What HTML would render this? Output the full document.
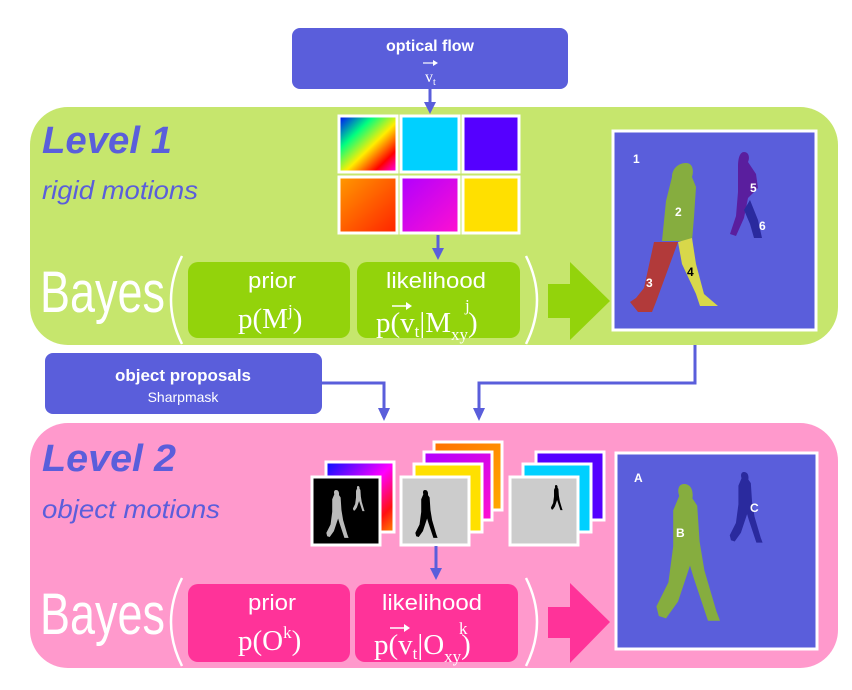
<!DOCTYPE html>
<html><head><meta charset="utf-8"><style>
html,body{margin:0;padding:0;background:#fff}
svg{display:block}
text{font-family:"Liberation Sans",sans-serif}
.ser{font-family:"Liberation Serif",serif}
</style></head><body>
<svg width="852" height="690" viewBox="0 0 852 690" xmlns="http://www.w3.org/2000/svg">
<defs>
<linearGradient id="g1" x1="0" y1="0" x2="1" y2="1"><stop offset="0" stop-color="#ff9a00"/><stop offset="1" stop-color="#ff2200"/></linearGradient>
<linearGradient id="g2" x1="0" y1="0" x2="1" y2="1"><stop offset="0" stop-color="#b000ff"/><stop offset="1" stop-color="#ff10d0"/></linearGradient>
<linearGradient id="g3" x1="0" y1="0" x2="1" y2="1"><stop offset="0" stop-color="#0000ff"/><stop offset="0.3" stop-color="#00ff80"/><stop offset="0.55" stop-color="#ffee00"/><stop offset="0.8" stop-color="#ff0000"/><stop offset="1" stop-color="#ff00ff"/></linearGradient>
<linearGradient id="g4" x1="0" y1="0" x2="1" y2="1"><stop offset="0" stop-color="#0010ff"/><stop offset="0.5" stop-color="#ff00ff"/><stop offset="0.8" stop-color="#ff1010"/><stop offset="1" stop-color="#ff8800"/></linearGradient>
<linearGradient id="g5" x1="0" y1="0" x2="1" y2="1"><stop offset="0" stop-color="#ff7000"/><stop offset="1" stop-color="#ffaa00"/></linearGradient>
<path id="walker" d="M0,0 c6,0 8,6 7,12 l4,6 l2,30 l4,24 l10,34 l3,8 l-10,0 l-2,-6 l-10,-30 l-3,-10 l-10,30 l-10,14 l-6,-2 l-2,-8 l10,-20 l4,-30 l0,-30 l5,-12 c-2,-6 0,-10 4,-10z"/>
</defs>

<rect x="292" y="28" width="276" height="61" rx="8" fill="#5a5edb"/>
<text x="430" y="51" font-size="16" font-weight="bold" fill="#fff" text-anchor="middle">optical flow</text>
<line x1="423" y1="63" x2="436" y2="63" stroke="#fff" stroke-width="1.2"/>
<polygon points="433,60 438,63 433,66" fill="#fff"/>
<text x="425" y="82" font-size="16" fill="#fff" class="ser">v<tspan font-size="10" dy="3">t</tspan></text>

<rect x="30" y="107" width="808" height="238" rx="38" fill="#c6e66d"/>
<line x1="430" y1="89" x2="430" y2="108" stroke="#5a5edb" stroke-width="3"/>
<polygon points="424,102 436,102 430,114" fill="#5a5edb"/>
<text x="42" y="153" font-size="38" font-weight="bold" font-style="italic" fill="#5a5edb" textLength="130" lengthAdjust="spacingAndGlyphs">Level 1</text>
<text x="42" y="199" font-size="26" font-style="italic" fill="#5a5edb" textLength="156" lengthAdjust="spacingAndGlyphs">rigid motions</text>

<g stroke="#fff" stroke-width="3">
<rect x="339" y="116" width="58" height="56" fill="url(#g3)"/>
<rect x="401" y="116" width="58" height="56" fill="#00d0ff"/>
<rect x="463" y="116" width="56" height="56" fill="#5500ff"/>
<rect x="339" y="177" width="58" height="56" fill="url(#g1)"/>
<rect x="401" y="177" width="58" height="56" fill="url(#g2)"/>
<rect x="463" y="177" width="56" height="56" fill="#ffe000"/>
</g>
<line x1="438" y1="235" x2="438" y2="252" stroke="#5a5edb" stroke-width="3"/>
<polygon points="432,248 444,248 438,260" fill="#5a5edb"/>

<text x="40" y="312" font-size="58" fill="#fff" textLength="125" lengthAdjust="spacingAndGlyphs">Bayes</text>
<path d="M182,256 Q160,300 182,344" fill="none" stroke="#fff" stroke-width="2.5"/>
<path d="M526,256 Q548,300 526,344" fill="none" stroke="#fff" stroke-width="2.5"/>
<rect x="188" y="262" width="162" height="76" rx="10" fill="#93d30b"/>
<rect x="357" y="262" width="163" height="76" rx="10" fill="#93d30b"/>
<text x="272" y="288" font-size="22" fill="#fff" text-anchor="middle" textLength="48" lengthAdjust="spacingAndGlyphs">prior</text>
<text x="238" y="328" font-size="29" fill="#fff" class="ser">p(M<tspan font-size="17" dy="-12">j</tspan><tspan dy="12">)</tspan></text>
<text x="436" y="288" font-size="22" fill="#fff" text-anchor="middle" textLength="100" lengthAdjust="spacingAndGlyphs">likelihood</text>
<text x="376" y="332" font-size="29" fill="#fff" class="ser">p(v<tspan font-size="17" dy="5">t</tspan><tspan dy="-5">|M</tspan><tspan font-size="17" dy="8">xy</tspan><tspan dy="-8">)</tspan></text>
<text x="465" y="311" font-size="17" fill="#fff" class="ser">j</text>
<line x1="392" y1="306" x2="410" y2="306" stroke="#fff" stroke-width="1.5"/>
<polygon points="406,302 412,306 406,310" fill="#fff"/>
<polygon points="548,284 570,284 570,262 610,301 570,340 570,318 548,318" fill="#93d30b"/>

<rect x="613" y="131" width="203" height="199" fill="#5a5edb" stroke="#fff" stroke-width="3"/>
<text x="633" y="163" font-size="12" font-weight="bold" fill="#fff">1</text>
<path d="M686,163 c7,0 8,8 6,14 l4,10 l-2,30 l-2,24 l-30,0 l4,-40 l6,-24 c0,-8 6,-14 14,-14z" fill="#86ad3f"/>
<path d="M654,242 l24,0 l-22,60 l-4,10 l-14,0 l-8,-10 l6,-4 l8,-10z" fill="#b23a3a"/>
<path d="M678,242 l14,-4 l4,26 l8,30 l14,12 l-18,0 l-4,-12 l-14,-30z" fill="#d8d84a"/>
<text x="646" y="287" font-size="12" font-weight="bold" fill="#fff">3</text>
<text x="687" y="276" font-size="12" font-weight="bold" fill="#000">4</text>
<text x="675" y="216" font-size="12" font-weight="bold" fill="#fff">2</text>
<path d="M744,152 c5,0 6,6 4,10 l8,12 l2,14 l-10,10 l-4,20 l-8,18 l-6,-2 l6,-18 l2,-24 l0,-26 c0,-8 2,-14 6,-14z" fill="#5a1e9e"/>
<path d="M750,200 l8,20 l4,18 l-8,0 l-4,-14 l-6,-14z" fill="#2a2a9e"/>
<text x="750" y="192" font-size="12" font-weight="bold" fill="#fff">5</text>
<text x="759" y="230" font-size="12" font-weight="bold" fill="#fff">6</text>

<rect x="45" y="353" width="277" height="61" rx="8" fill="#5a5edb"/>
<text x="183" y="381" font-size="17" font-weight="bold" fill="#fff" text-anchor="middle">object proposals</text>
<text x="183" y="402" font-size="14" fill="#fff" text-anchor="middle">Sharpmask</text>
<polyline points="322,383 384,383 384,414" fill="none" stroke="#5a5edb" stroke-width="3"/>
<polygon points="378,408 390,408 384,421" fill="#5a5edb"/>
<polyline points="695,345 695,383 479,383 479,414" fill="none" stroke="#5a5edb" stroke-width="3"/>
<polygon points="473,408 485,408 479,421" fill="#5a5edb"/>

<rect x="30" y="423" width="808" height="245" rx="38" fill="#ff99cc"/>
<text x="42" y="471" font-size="38" font-weight="bold" font-style="italic" fill="#5a5edb" textLength="134" lengthAdjust="spacingAndGlyphs">Level 2</text>
<text x="42" y="518" font-size="26" font-style="italic" fill="#5a5edb" textLength="178" lengthAdjust="spacingAndGlyphs">object motions</text>

<g stroke="#fff" stroke-width="3">
<rect x="326" y="462" width="68" height="70" fill="url(#g4)"/>
<rect x="312" y="477" width="68" height="68" fill="#000"/>
<rect x="434" y="442" width="68" height="68" fill="url(#g5)"/>
<rect x="424" y="452" width="68" height="68" fill="url(#g2)"/>
<rect x="414" y="464" width="68" height="68" fill="#ffe000"/>
<rect x="401" y="477" width="68" height="68" fill="#cccccc"/>
<rect x="536" y="452" width="68" height="68" fill="#5500ff"/>
<rect x="523" y="464" width="68" height="68" fill="#00d0ff"/>
<rect x="510" y="477" width="68" height="68" fill="#cccccc"/>
</g>
<use href="#walker" transform="translate(336,490) scale(0.42)" fill="#bbb"/>
<use href="#walker" transform="translate(358,486) scale(0.22)" fill="#bbb"/>
<use href="#walker" transform="translate(425,490) scale(0.42)" fill="#000"/>
<use href="#walker" transform="translate(556,485) scale(0.22)" fill="#000"/>
<line x1="436" y1="546" x2="436" y2="572" stroke="#5a5edb" stroke-width="3"/>
<polygon points="430,568 442,568 436,580" fill="#5a5edb"/>

<text x="40" y="634" font-size="58" fill="#fff" textLength="125" lengthAdjust="spacingAndGlyphs">Bayes</text>
<path d="M182,578 Q160,622 182,666" fill="none" stroke="#fff" stroke-width="2.5"/>
<path d="M526,578 Q548,622 526,666" fill="none" stroke="#fff" stroke-width="2.5"/>
<rect x="188" y="584" width="162" height="78" rx="10" fill="#ff3399"/>
<rect x="355" y="584" width="163" height="78" rx="10" fill="#ff3399"/>
<text x="272" y="610" font-size="22" fill="#fff" text-anchor="middle" textLength="48" lengthAdjust="spacingAndGlyphs">prior</text>
<text x="238" y="650" font-size="29" fill="#fff" class="ser">p(O<tspan font-size="17" dy="-12">k</tspan><tspan dy="12">)</tspan></text>
<text x="432" y="610" font-size="22" fill="#fff" text-anchor="middle" textLength="100" lengthAdjust="spacingAndGlyphs">likelihood</text>
<text x="374" y="654" font-size="29" fill="#fff" class="ser">p(v<tspan font-size="17" dy="5">t</tspan><tspan dy="-5">|O</tspan><tspan font-size="17" dy="8">xy</tspan><tspan dy="-8">)</tspan></text>
<text x="459" y="634" font-size="17" fill="#fff" class="ser">k</text>
<line x1="390" y1="628" x2="408" y2="628" stroke="#fff" stroke-width="1.5"/>
<polygon points="404,624 410,628 404,632" fill="#fff"/>
<polygon points="548,607 570,607 570,583 610,622 570,663 570,638 548,638" fill="#ff3399"/>

<rect x="616" y="453" width="201" height="196" fill="#5a5edb" stroke="#fff" stroke-width="3"/>
<text x="634" y="482" font-size="12" font-weight="bold" fill="#fff">A</text>
<use href="#walker" transform="translate(684,484) scale(1.2)" fill="#86ad3f"/>
<text x="676" y="537" font-size="12" font-weight="bold" fill="#fff">B</text>
<use href="#walker" transform="translate(744,472) scale(0.62)" fill="#2a2a9e"/>
<text x="750" y="512" font-size="12" font-weight="bold" fill="#fff">C</text>
</svg>
</body></html>
